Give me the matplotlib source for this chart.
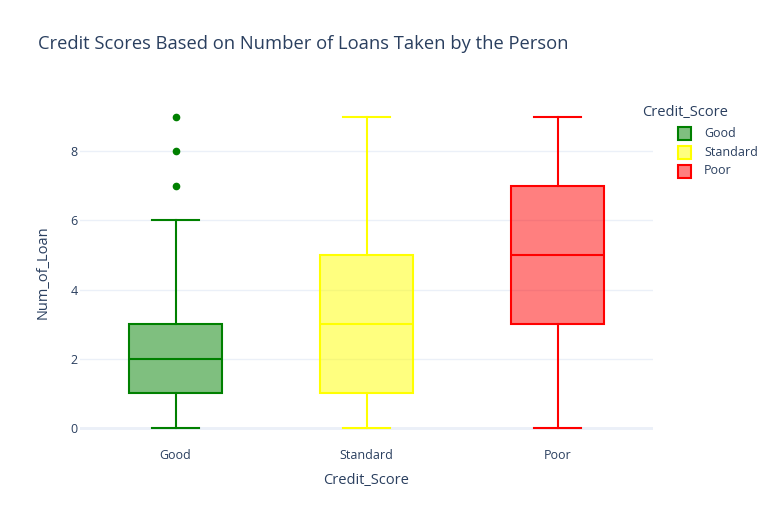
import matplotlib.pyplot as plt
from matplotlib.patches import Rectangle

plt.rcParams['font.family'] = ['Open Sans', 'DejaVu Sans']

# box statistics
categories = ['Good', 'Standard', 'Poor']
whislo = [0, 0, 0]
q1 = [1, 1, 3]
med = [2, 3, 5]
q3 = [3, 5, 7]
whishi = [6, 9, 9]
outliers = [[7, 8, 9], [], []]
colors = ['#008000', '#FFFF00', '#FF0000']
yticks = [0, 2, 4, 6, 8]

text_color = '#2a3f5f'
grid_color = '#EBF0F8'

fig = plt.figure(figsize=(7.77, 5.25), dpi=100)
W, H = 777, 525
ax = fig.add_axes([80 / W, (H - 445) / H, 573 / W, 345 / H])

stats = []
for i, c in enumerate(categories):
    stats.append({'label': c, 'whislo': whislo[i], 'q1': q1[i], 'med': med[i],
                  'q3': q3[i], 'whishi': whishi[i], 'fliers': outliers[i]})

for i, s in enumerate(stats):
    col = colors[i]
    ax.bxp([s], positions=[i], widths=0.49, capwidths=0.245, patch_artist=True,
           showfliers=True, manage_ticks=False,
           boxprops=dict(facecolor=col + '80', edgecolor=col, linewidth=1.5),
           medianprops=dict(color=col, linewidth=1.5),
           whiskerprops=dict(color=col, linewidth=1.5),
           capprops=dict(color=col, linewidth=1.5),
           flierprops=dict(marker='o', markerfacecolor=col, markeredgecolor=col,
                           markersize=4.5, linestyle='none'))

ax.set_xlim(-0.5, 2.5)
ax.set_ylim(-0.49, 9.48)
ax.set_xticks(range(len(categories)))
ax.set_xticklabels(categories)
ax.set_yticks(yticks)
ax.tick_params(length=0, colors=text_color, labelsize=9)
ax.tick_params(axis='x', pad=3)
ax.tick_params(axis='y', pad=1.5)
ax.yaxis.grid(True, color=grid_color, linewidth=1)
ax.axhline(0, color=grid_color, linewidth=2, zorder=0)
ax.set_axisbelow(True)
for sp in ax.spines.values():
    sp.set_visible(False)

ax.set_xlabel('Credit_Score', color=text_color, fontsize=10.5)
ax.set_ylabel('Num_of_Loan', color=text_color, fontsize=10.5)
ax.xaxis.set_label_coords(ax.get_position().x0 + 0.5 * ax.get_position().width, 1 - 480 / H,
                          transform=fig.transFigure)
ax.yaxis.set_label_coords(43 / W, ax.get_position().y0 + 0.5 * ax.get_position().height,
                          transform=fig.transFigure)
ax.xaxis.label.set_va('center')
ax.yaxis.label.set_va('center')

fig.text(38 / W, 1 - 44 / H, 'Credit Scores Based on Number of Loans Taken by the Person',
         color=text_color, fontsize=13.2, va='center', ha='left')

# legend
fig.text(642 / W, 1 - 113 / H, 'Credit_Score', color=text_color, fontsize=10.5,
         va='center', ha='left')
for i, c in enumerate(categories):
    yc = 133 + i * 19
    fig.patches.append(Rectangle((678 / W, 1 - (yc + 6.5) / H), 13 / W, 13 / H,
                                 transform=fig.transFigure, facecolor=colors[i] + '80',
                                 edgecolor=colors[i], linewidth=1.5))
    fig.text(704 / W, 1 - yc / H, c, color=text_color, fontsize=9,
             va='center', ha='left')

fig.savefig('out.png', dpi=100, facecolor='white')
